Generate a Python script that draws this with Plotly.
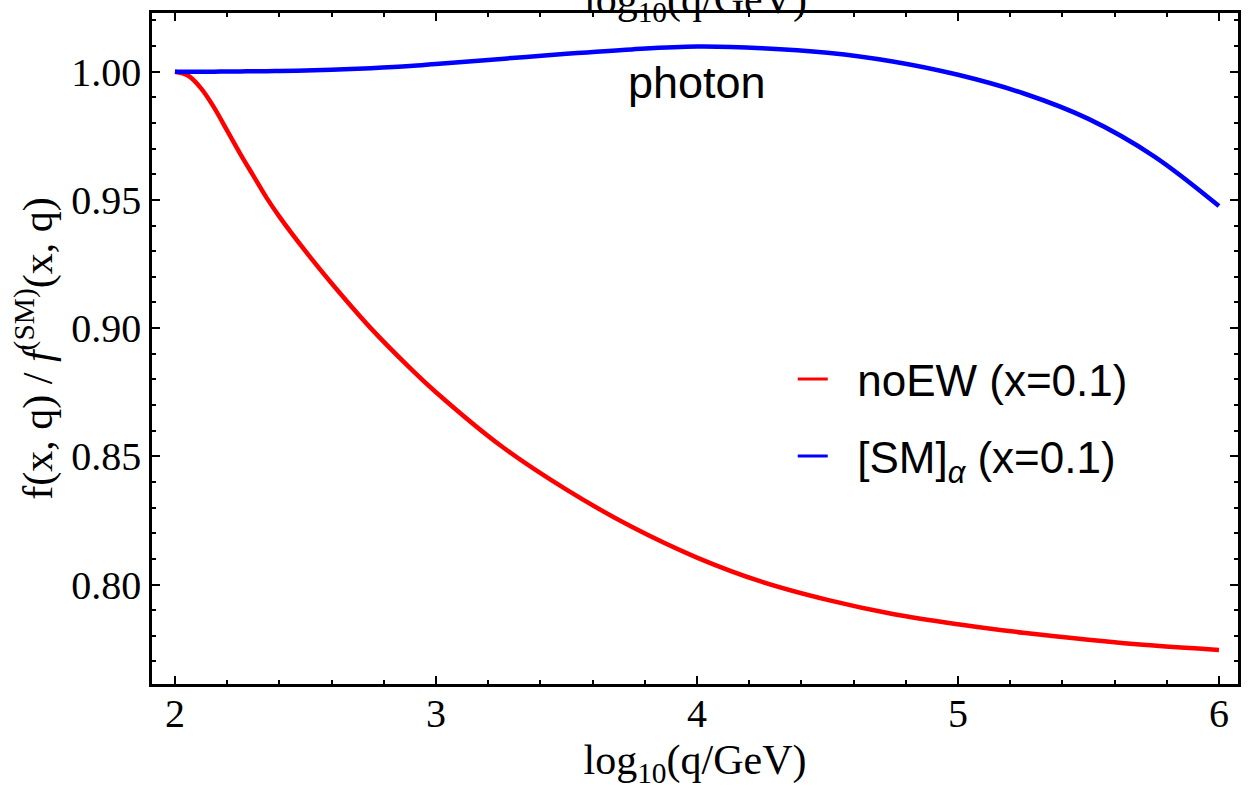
import plotly.graph_objects as go

# log10(q/GeV) sample positions
log_q = [2.0, 2.05, 2.1, 2.15, 2.2, 2.25, 2.3, 2.35, 2.4, 2.5, 2.6, 2.75, 2.9,
         3.0, 3.25, 3.5, 3.75, 4.0, 4.25, 4.5, 4.75, 5.0, 5.25, 5.5, 5.75, 6.0]

# ratio f / f^(SM) for noEW (x=0.1)
ratio_noEW = [1.000, 0.9985, 0.9935, 0.986, 0.977, 0.968, 0.9595, 0.951, 0.9435,
              0.930, 0.9175, 0.900, 0.8845, 0.875, 0.854, 0.837, 0.8225, 0.8105,
              0.801, 0.794, 0.7885, 0.7845, 0.7812, 0.7785, 0.7762, 0.7745]

# ratio for [SM]_alpha (x=0.1)
ratio_SMalpha = [1.0000, 1.0000, 1.0000, 1.0000, 1.0001, 1.0001, 1.0002, 1.0002,
                 1.0003, 1.0005, 1.0008, 1.0014, 1.0022, 1.0030, 1.0050, 1.0070,
                 1.0087, 1.0098, 1.0092, 1.0074, 1.0040, 0.9988, 0.9916, 0.9816,
                 0.9671, 0.9476]

series_names = ["noEW (x=0.1)", "[SM]<sub><i>α</i></sub> (x=0.1)"]
series_colors = ["#FF0000", "#0000FF"]

x_ticks = [2, 3, 4, 5, 6]
y_ticks = [0.80, 0.85, 0.90, 0.95, 1.00]

SERIF = "Liberation Serif, Times New Roman, serif"
SANS = "Liberation Sans, Arial, sans-serif"
NBSP = "\u00a0"

fig = go.Figure()
for ys, name, col in zip([ratio_noEW, ratio_SMalpha], series_names, series_colors):
    fig.add_trace(go.Scatter(x=log_q, y=ys, mode="lines", name=name,
                             line=dict(color=col, width=4.5, shape="spline", smoothing=1),
                             showlegend=False))
for i, (name, col) in enumerate(zip(series_names, series_colors)):
    fig.add_trace(go.Scatter(x=[None], y=[None], mode="lines", name=NBSP * 2 + name,
                             line=dict(color=col, width=3), legendgroup=f"g{i}",
                             showlegend=True))

axis_common = dict(
    showline=True, linewidth=2.5, linecolor="black", mirror="allticks",
    ticks="inside", ticklen=8, tickwidth=2, tickcolor="black",
    showgrid=False, zeroline=False,
    tickfont=dict(family=SERIF, size=40, color="black"),
)

fig.update_xaxes(
    **axis_common,
    range=[1.912, 6.073], tickvals=x_ticks, ticktext=[str(v) for v in x_ticks],
    ticklabelstandoff=-8,
    minor=dict(dtick=0.2, tick0=2, ticks="inside", ticklen=4, tickwidth=1.5, tickcolor="black"),
    title=dict(text="log<sub>10</sub>(q/GeV)", font=dict(family=SERIF, size=42, color="black"), standoff=16),
)
fig.update_yaxes(
    **axis_common,
    range=[0.7612, 1.0229], tickvals=y_ticks, ticktext=[f"{v:.2f}" for v in y_ticks],
    minor=dict(dtick=0.01, tick0=0.8, ticks="inside", ticklen=4, tickwidth=1.5, tickcolor="black"),
    title=dict(text="f(x, q) / <i>f</i><sup>(SM)</sup>(x, q)", font=dict(family=SERIF, size=42, color="black"), standoff=6),
)

fig.add_annotation(x=4.0, y=0.9957, xref="x", yref="y", text="photon", showarrow=False,
                   font=dict(family=SANS, size=45, color="black"))
fig.add_annotation(x=0.50, y=1.0, xref="paper", yref="paper", yanchor="bottom",
                   text="log<sub>10</sub>(q/GeV)", showarrow=False, yshift=-17,
                   font=dict(family=SERIF, size=42, color="black"))

fig.update_layout(
    width=1249, height=789,
    margin=dict(l=152, r=8, t=13, b=103),
    paper_bgcolor="white", plot_bgcolor="white",
    legend=dict(x=0.59, y=0.507, xanchor="left", yanchor="top",
                font=dict(family=SANS, size=44, color="black"),
                bgcolor="rgba(0,0,0,0)", traceorder="grouped", tracegroupgap=17,
                itemwidth=30),
)

fig.write_html("out.html")
